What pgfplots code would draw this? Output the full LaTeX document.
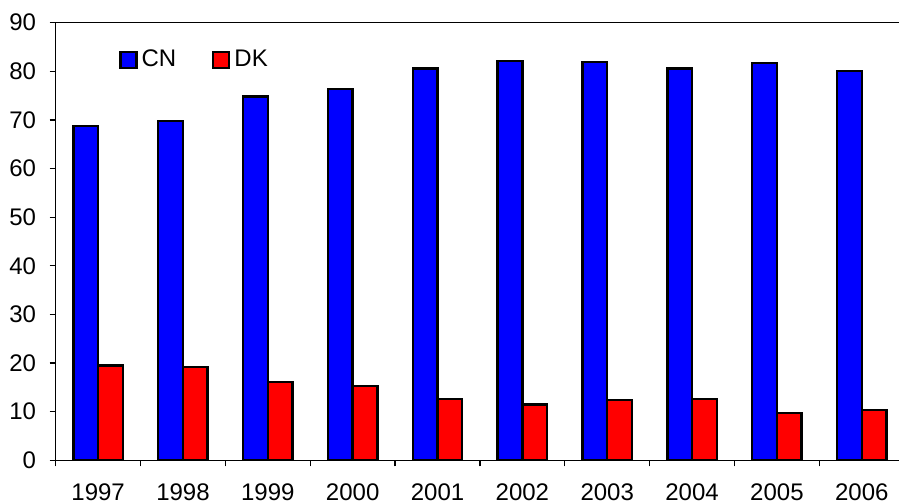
\documentclass[border=0pt]{standalone}
\usepackage{fontspec}
\setmainfont{Liberation Sans}
\usepackage{pgfplots}
\pgfplotsset{compat=1.18}
\definecolor{cnblue}{RGB}{0,0,255}
\definecolor{dkred}{RGB}{255,0,0}
\begin{document}
\begin{tikzpicture}[x=1pt,y=1pt]
\begin{axis}[
  name=ax,
  scale only axis,
  width=421.65pt, height=218.8pt,
  xmin=-0.5, xmax=9.439,
  ymin=0, ymax=90,
  ytick={0,10,...,90},
  xtick={0,...,9},
  xticklabels={1997,1998,1999,2000,2001,2002,2003,2004,2005,2006},
  minor xtick={-0.5,0.5,...,8.5},
  major x tick style={draw=none},
  tick align=outside,
  major tick length=3pt,
  minor tick length=3pt,
  xtick pos=bottom, ytick pos=left,
  axis x line*=bottom, axis y line*=left,
  axis line style={line width=0.6pt, -},
  every tick/.style={line width=0.6pt, black},
  /pgf/number format/assume math mode=true,
  tick label style={font=\fontsize{12}{14}\selectfont},
  xticklabel style={yshift=-5.1pt},
  yticklabel style={xshift=-3.3pt},
  legend style={draw=none, fill=none, at={(axis description cs:0.0751,0.9148)}, anchor=west,
    inner sep=0pt, font=\fontsize{12}{14}\selectfont,
    /tikz/every even column/.append style={column sep=16pt}},
  legend columns=2,
  legend image code/.code={\draw[#1, line width=1.1pt] (0pt,-4pt) rectangle (8pt,4pt);},
  clip=false,
]
\addplot[ybar, bar width=0.291, bar shift=-0.1455, fill=cnblue, draw=black, line width=1.2pt]
  coordinates {(0,68.8) (1,69.8) (2,74.8) (3,76.4) (4,80.6) (5,82.1) (6,81.9) (7,80.6) (8,81.7) (9,80.1)};
\addlegendentry{CN}
\addplot[ybar, bar width=0.291, bar shift=0.1455, fill=dkred, draw=black, line width=1.2pt]
  coordinates {(0,19.5) (1,19.2) (2,16.1) (3,15.3) (4,12.6) (5,11.5) (6,12.4) (7,12.6) (8,9.7) (9,10.35)};
\addlegendentry{DK}
\draw[line width=0.6pt] (rel axis cs:0,1) -- (rel axis cs:1,1);
\end{axis}
\pgfresetboundingbox
\path (ax.south west) ++(-27.85pt,-21.85pt) coordinate (bl);
\path (ax.north east) ++(0pt,11.35pt) coordinate (tr);
\path[use as bounding box] (bl) rectangle (tr);
\end{tikzpicture}
\end{document}
